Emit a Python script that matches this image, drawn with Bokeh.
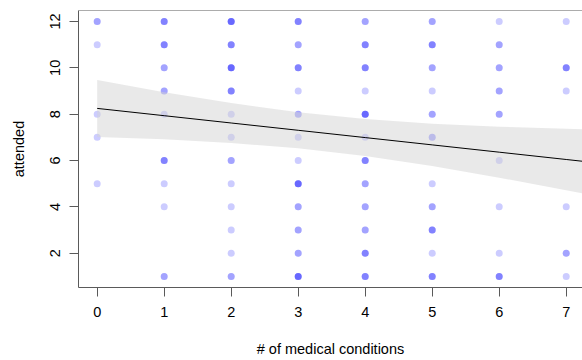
import numpy as np
from bokeh.plotting import figure
from bokeh.models import Range1d, Span, FixedTicker, ColumnDataSource
from bokeh.embed import file_html
from bokeh.resources import INLINE

# number of medical conditions (x), attended (y), and how many respondents share that point
conditions = [0, 0, 0, 0, 0,
              1, 1, 1, 1, 1, 1, 1, 1, 1,
              2, 2, 2, 2, 2, 2, 2, 2, 2, 2, 2, 2,
              3, 3, 3, 3, 3, 3, 3, 3, 3, 3, 3, 3,
              4, 4, 4, 4, 4, 4, 4, 4, 4, 4, 4, 4,
              5, 5, 5, 5, 5, 5, 5, 5, 5, 5, 5,
              6, 6, 6, 6, 6, 6, 6, 6, 6,
              7, 7, 7, 7, 7, 7]
attended = [12, 11, 8, 7, 5,
            12, 11, 10, 9, 8, 6, 5, 4, 1,
            12, 11, 10, 9, 8, 7, 6, 5, 4, 3, 2, 1,
            12, 11, 10, 9, 8, 7, 6, 5, 4, 3, 2, 1,
            12, 11, 10, 9, 8, 7, 6, 5, 4, 3, 2, 1,
            12, 11, 10, 9, 8, 7, 5, 4, 3, 2, 1,
            12, 11, 10, 9, 8, 6, 4, 2, 1,
            12, 10, 9, 4, 2, 1]
overlap = [2, 1, 1, 1, 1,
           3, 3, 2, 2, 1, 3, 1, 1, 2,
           4, 3, 4, 3, 1, 1, 2, 1, 1, 1, 1, 2,
           3, 2, 3, 1, 2, 1, 1, 4, 2, 2, 2, 4,
           2, 3, 3, 1, 4, 1, 3, 2, 2, 2, 3, 3,
           2, 3, 2, 1, 2, 2, 1, 2, 3, 1, 3,
           1, 2, 2, 2, 2, 1, 1, 1, 3,
           1, 3, 1, 1, 2, 1]

# fitted regression line and its confidence band
fit_x = [0, 1, 2, 3, 4, 5, 6, 7, 8]
fit_y = [8.25, 7.935, 7.62, 7.305, 6.99, 6.675, 6.36, 6.045, 5.73]
ci_lower = [7.02, 6.92, 6.76, 6.53, 6.19, 5.76, 5.26, 4.72, 4.16]
ci_upper = [9.48, 8.95, 8.48, 8.08, 7.79, 7.59, 7.46, 7.37, 7.30]

x_ticks = [0, 1, 2, 3, 4, 5, 6, 7]
y_ticks = [2, 4, 6, 8, 10, 12]

FONT = "Liberation Sans"
AXIS_COL = "#5a5a5a"

pts = ColumnDataSource(dict(
    x=np.repeat(conditions, overlap),
    y=np.repeat(attended, overlap),
))
band = ColumnDataSource(dict(x=fit_x, lo=ci_lower, hi=ci_upper, fit=fit_y))

p = figure(width=582, height=360, output_backend="svg", toolbar_location=None,
           x_range=Range1d(-0.279, 7.243), y_range=Range1d(0.52, 12.475),
           min_border_left=78, min_border_right=0, min_border_top=10,
           min_border_bottom=73)

p.scatter("x", "y", source=pts, size=7, fill_color="blue", fill_alpha=0.2,
          line_color=None)
p.varea(x="x", y1="lo", y2="hi", source=band, fill_color="#d3d3d3",
        fill_alpha=0.5)
p.line("x", "fit", source=band, line_color="black", line_width=1)

p.add_layout(Span(location=12.475, dimension="width", line_color=AXIS_COL,
                  line_width=1))

p.outline_line_color = None
p.xgrid.grid_line_color = None
p.ygrid.grid_line_color = None
p.background_fill_color = "white"
p.border_fill_color = "white"

p.xaxis.ticker = FixedTicker(ticks=x_ticks)
p.yaxis.ticker = FixedTicker(ticks=y_ticks)
p.xaxis.axis_label = "# of medical conditions"
p.yaxis.axis_label = "attended"
p.yaxis.major_label_orientation = "vertical"

for ax in (p.xaxis, p.yaxis):
    ax.axis_line_color = AXIS_COL
    ax.major_tick_line_color = AXIS_COL
    ax.major_tick_out = 9
    ax.major_tick_in = 0
    ax.minor_tick_line_color = None
    ax.major_label_text_font = FONT
    ax.major_label_text_font_size = "14.5px"
    ax.major_label_text_color = "black"
    ax.axis_label_text_font = FONT
    ax.axis_label_text_font_size = "14.5px"
    ax.axis_label_text_font_style = "normal"
    ax.axis_label_text_color = "black"

p.xaxis.major_label_standoff = 10
p.xaxis.axis_label_standoff = 21
p.yaxis.major_label_standoff = 9
p.yaxis.axis_label_standoff = 21

open("out.html", "w").write(file_html(p, INLINE))
